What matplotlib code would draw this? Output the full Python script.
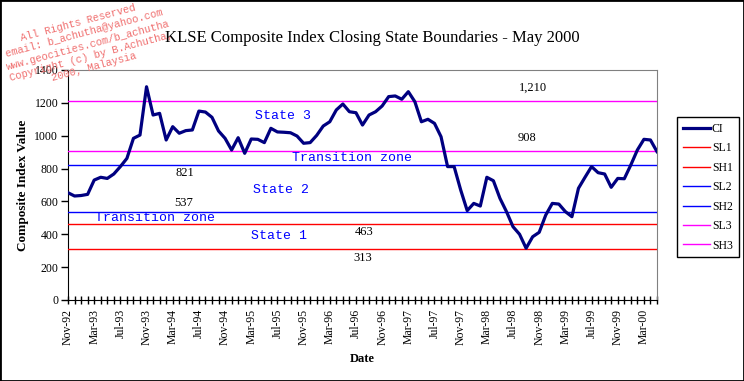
import pandas as pd
import matplotlib.pyplot as plt
from matplotlib.patches import Rectangle

# Monthly KLSE Composite Index closes, Nov-92 .. May-00
ci = [653, 633, 636, 643, 730, 747, 740, 767, 812, 862,
      984, 1004, 1298, 1126, 1136, 974, 1055, 1015, 1031, 1035,
      1150, 1144, 1112, 1029, 984, 913, 988, 893, 980, 978,
      958, 1045, 1023, 1021, 1018, 998, 954, 958, 1002, 1059,
      1085, 1157, 1193, 1146, 1140, 1065, 1126, 1146, 1181, 1238,
      1242, 1222, 1268, 1207, 1085, 1100, 1075, 994, 812, 812,
      670, 544, 588, 572, 747, 726, 619, 538, 446, 400,
      315, 385, 412, 517, 588, 584, 538, 507, 680, 747,
      812, 775, 767, 686, 740, 738, 822, 913, 978, 974, 903]
months = pd.date_range("1992-11-01", periods=len(ci), freq="MS")
month_labels = [m.strftime("%b-%y") for m in months]

# state boundaries
bound_names = ["SL1", "SH1", "SL2", "SH2", "SL3", "SH3"]
bound_values = [313, 463, 537, 821, 908, 1210]
bound_colors = ["#ff0000", "#ff0000", "#0000ff", "#0000ff", "#ff00ff", "#ff00ff"]

watermark = ["All Rights Reserved", "email: b_achutha@yahoo.com",
             "www.geocities.com/b_achutha", "Copyright (c) by B.Achutha,",
             "2000, Malaysia"]

serif = "Liberation Serif"
mono = "Liberation Mono"

fig = plt.figure(figsize=(7.44, 3.81), dpi=100)
ax = fig.add_axes([68 / 744, 81 / 381, 589 / 744, 230 / 381])

x = list(range(len(ci)))
ax.plot(x, ci, color="#000080", lw=2.3, label="CI", zorder=5)
for name, val, col in zip(bound_names, bound_values, bound_colors):
    ax.plot([0, len(ci) - 1], [val, val], color=col, lw=1, label=name, zorder=3)

ax.set_xlim(0, len(ci) - 1)
ax.set_ylim(0, 1400)
ax.set_yticks(range(0, 1401, 200))
ax.set_yticklabels([str(v) for v in range(0, 1401, 200)], fontfamily=serif, fontsize=8.5)
ax.set_xticks(x, minor=True)
ax.set_xticks(x[::4])
ax.set_xticklabels(month_labels[::4], rotation=90, fontfamily=serif, fontsize=8.5)
ax.tick_params(axis="x", which="both", direction="inout", length=6, width=1)
ax.tick_params(axis="y", direction="out", length=5, width=1, pad=2)

for side in ["top", "right"]:
    ax.spines[side].set_color("#808080")
for side in ["left", "bottom"]:
    ax.spines[side].set_color("black")

ax.set_xlabel("Date", fontfamily=serif, fontweight="bold", fontsize=9, labelpad=6)
ax.set_ylabel("Composite Index Value", fontfamily=serif, fontweight="bold", fontsize=9.5, labelpad=4)

# boundary value labels
for txt, xi, yv in [("1,210", 71, 1290), ("908", 70.2, 986), ("821", 17.9, 773),
                    ("537", 17.7, 590), ("463", 45.3, 414), ("313", 45.1, 256)]:
    ax.text(xi, yv, txt, ha="center", va="center", fontfamily=serif, fontsize=9)

# state annotations
blue_kw = dict(color="#0000ff", fontfamily=mono, fontsize=9.5, va="center")
ax.text(32.9, 1120, "State 3", ha="center", **blue_kw)
ax.text(34.2, 864, "Transition zone", ha="left", **blue_kw)
ax.text(32.6, 670, "State 2", ha="center", **blue_kw)
ax.text(4.1, 499, "Transition zone", ha="left", **blue_kw)
ax.text(32.3, 390, "State 1", ha="center", **blue_kw)

fig.text(0.5, 1 - 38 / 381, "KLSE Composite Index Closing State Boundaries - May 2000",
         ha="center", va="center", fontfamily=serif, fontsize=12)

leg = fig.legend(loc="upper left", bbox_to_anchor=(677 / 744, 1 - 117 / 381),
                 prop={"family": serif, "size": 8.5}, frameon=True, fancybox=False,
                 edgecolor="black", framealpha=1, borderpad=0.5, labelspacing=0.63,
                 handlelength=2.3, handletextpad=0.15, borderaxespad=0)
leg.get_frame().set_linewidth(1)

# copyright watermark, one line at a time
wm_pos = [(78, 22.5), (84.5, 33.5), (88.5, 45), (91.5, 56), (94, 66.5)]
for line, (px, py) in zip(watermark, wm_pos):
    fig.text(px / 744, 1 - py / 381, line, ha="center", va="center", rotation=15,
             rotation_mode="anchor", fontfamily=mono, fontsize=7.6, color="#f07070",
             zorder=10)

fig.patches.append(Rectangle((0, 0), 1, 1, transform=fig.transFigure, fill=False,
                             edgecolor="black", lw=2, zorder=20))

plt.savefig("out.png", dpi=100)
plt.close()
